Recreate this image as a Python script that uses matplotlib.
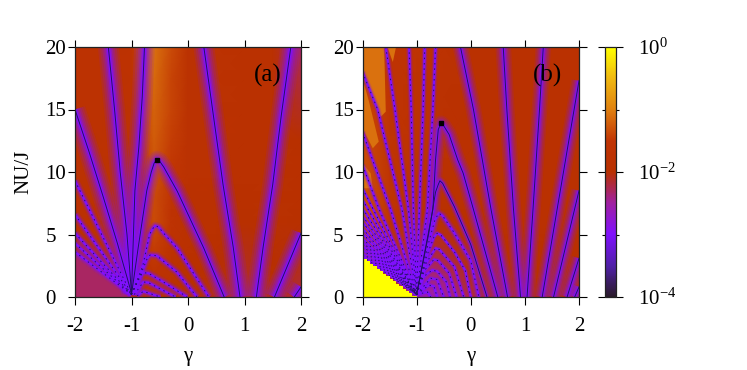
"""Two gamma / NU maps on a shared log colour scale, with node lines drawn on top."""
import matplotlib
matplotlib.use("Agg")
import matplotlib.pyplot as plt
import numpy as np
from matplotlib.colors import LinearSegmentedColormap, LogNorm
from matplotlib.ticker import NullFormatter

plt.rcParams["font.family"] = ["Liberation Serif", "DejaVu Sans"]
plt.rcParams["mathtext.default"] = "regular"
plt.rcParams["font.size"] = 15
plt.rcParams["axes.unicode_minus"] = False

# colour scale, log10 value fraction -> colour
CMAP_STOPS = ["#2a1a2a", "#5020a8", "#8010ff", "#a020a0", "#b83000",
              "#c03404", "#e08010", "#f0b810", "#ffff00"]

# ---- panel (a) background, log10 values
a_gamma = [-2, -1.5, -1, -0.8, -0.6, -0.3, 0, 0.5, 1, 1.5, 2]
a_nu = [0, 2, 4, 6, 8, 10, 12.5, 15, 17.5, 20]
a_log = [
    [-2.2, -2.2, -2.1, -1.9, -1.8, -1.9, -2.0, -2.1, -2.2, -2.1, -2.2],
    [-2.0, -1.95, -1.9, -1.8, -1.65, -1.8, -1.95, -2.0, -2.1, -2.0, -2.1],
    [-1.85, -1.85, -1.85, -1.65, -1.45, -1.7, -1.9, -1.95, -2.05, -1.95, -2.05],
    [-1.85, -1.8, -1.8, -1.6, -1.35, -1.6, -1.85, -1.9, -2.0, -1.9, -2.0],
    [-1.8, -1.8, -1.75, -1.55, -1.35, -1.55, -1.85, -1.85, -1.95, -1.9, -1.95],
    [-1.8, -1.8, -1.7, -1.5, -1.3, -1.5, -1.8, -1.8, -1.9, -1.85, -1.95],
    [-1.8, -1.75, -1.7, -1.45, -1.25, -1.45, -1.8, -1.8, -1.9, -1.85, -2.0],
    [-1.75, -1.75, -1.7, -1.4, -1.2, -1.4, -1.8, -1.8, -1.85, -1.85, -2.1],
    [-1.75, -1.75, -1.7, -1.35, -1.15, -1.4, -1.8, -1.75, -1.85, -1.9, -2.2],
    [-1.75, -1.75, -1.7, -1.3, -1.1, -1.35, -1.8, -1.75, -1.85, -1.9, -2.3],
]
# magenta wedge under the lowest fan line
a_wedge_gamma = [-2, -2, -1, -1]
a_wedge_nu = [0, 3.5, 0.2, 0]
a_wedge_log = -2.3

# panel (a) node lines
a_lines = [
    ([-1.41, -1.3, -1.2, -1.08, -1.0], [20, 15, 10, 5, 0.3]),
    ([-0.77, -0.81, -0.87, -0.94, -1.0], [20, 16, 12, 8.5, 0.3]),
    ([-2, -1.75, -1.5, -1.25, -1.0], [15, 11.6, 8.0, 4.3, 0.3]),
    ([0.28, 0.45, 0.62, 0.8, 0.92], [20, 14.5, 9, 4, 0]),
    ([1.82, 1.65, 1.5, 1.33, 1.21], [20, 14.5, 9, 4, 0]),
    ([2, 1.53], [5.1, 0]),
    ([2, 1.88], [0.8, 0]),
]
# panel (a) dotted fan from the left edge
a_fan_nu = [9.3, 6.6, 5.1, 4.3, 3.6]
# panel (a) arcs
a_arcs = [
    ([-1, -0.88, -0.73, -0.65, -0.6, -0.55, -0.5, -0.43, -0.19, 0.28, 0.64],
     [0.2, 4, 8.5, 10.0, 10.7, 11, 10.85, 10.4, 8.46, 3.9, 0]),
    ([-1, -0.8, -0.68, -0.62, -0.58, -0.52, -0.45, -0.19, 0.37],
     [0.2, 2.5, 5.0, 5.5, 5.7, 5.6, 5.2, 3.9, 0]),
    ([-1, -0.82, -0.72, -0.67, -0.55, -0.2, 0.16],
     [0.2, 2, 3.1, 3.36, 3.3, 2.0, 0]),
    ([-1, -0.85, -0.8, -0.7, -0.4, -0.015],
     [0.2, 1.6, 1.95, 1.9, 1.1, 0]),
    ([-0.95, -0.79, -0.7, -0.22], [0.2, 1.2, 1.15, 0]),
    ([-0.9, -0.79, -0.49], [0.1, 0.45, 0]),
]
a_peak = ([-0.55], [11])

# ---- panel (b) background, log10 values
b_gamma = [-2, -1.5, -1, -0.5, 0, 0.5, 1, 1.5, 2]
b_nu = [0, 2, 4, 6, 8, 12, 16, 20]
b_log = [
    [-1.3, -1.8, -2.6, -2.5, -2.2, -2.05, -2.05, -2.05, -2.05],
    [-1.3, -1.7, -2.4, -2.3, -2.05, -2.0, -2.0, -2.0, -2.0],
    [-1.3, -1.65, -2.2, -2.1, -2.0, -1.95, -1.95, -1.95, -1.95],
    [-1.3, -1.6, -2.0, -1.95, -1.95, -1.9, -1.9, -1.9, -1.9],
    [-1.3, -1.55, -1.85, -1.85, -1.9, -1.9, -1.9, -1.9, -1.9],
    [-1.35, -1.55, -1.75, -1.8, -1.85, -1.85, -1.85, -1.85, -1.9],
    [-1.4, -1.55, -1.7, -1.8, -1.85, -1.85, -1.85, -1.85, -1.9],
    [-1.4, -1.55, -1.65, -1.75, -1.85, -1.85, -1.85, -1.85, -1.9],
]
# flat orange patches, top left of panel (b)
b_orange_log = -1.1
b_orange = [
    ([-2, -1.6, -1.57, -1.66, -1.75, -1.97, -2], [20, 20, 14.83, 14.43, 15.1, 18.03, 18.56]),
    ([-2, -1.88, -1.70, -1.81, -2], [17.5, 15.63, 12.43, 11.9, 13.5]),
    ([-2, -1.85, -1.81, -2], [10.7, 9.9, 8.7, 8.7]),
    ([-1.54, -1.38, -1.44], [20, 20, 18.8]),
]
# saturated corner, stepped edge
b_yellow_edges = [-2, -1.92, -1.86, -1.8, -1.74, -1.68, -1.62, -1.56, -1.5, -1.44, -1.38,
                  -1.32, -1.26, -1.2, -1.14, -1.08, -1]
b_yellow_top = [3.05, 2.85, 2.65, 2.45, 2.25, 2.05, 1.85, 1.65, 1.45, 1.25, 1.05,
                0.85, 0.65, 0.5, 0.3, 0.1]
b_yellow_log = 0

# panel (b) node lines
b_fan_lines = [
    ([-1.57, -1.4, -1.15, -1], [20, 15, 7, 0.2]),
    ([-1.14, -1.1, -1.06, -1], [20, 15, 7, 0.2]),
    ([-0.85, -0.88, -0.95, -1], [20, 15, 7, 0.2]),
    ([-0.65, -0.7, -0.8, -1], [20, 15, 7, 0.2]),
    ([-2, -1.72, -1.27, -1], [18, 15, 7, 0.2]),
    ([-2, -1.48, -1], [13.2, 7, 0.2]),
    ([-2, -1.69, -1], [10.56, 7, 0.2]),
]
b_fan_nu = [8.7, 7.8, 7.1, 6.5, 6.0, 5.5, 5.1, 4.7, 4.4, 4.1, 3.8, 3.5, 3.25]
b_lines = [
    ([-0.19, 0.05, 0.375, 0.68], [20, 15, 7, 0]),
    ([0.6, 0.667, 0.79, 0.92], [20, 15, 7, 0]),
    ([1.34, 1.27, 1.15, 1.04], [20, 15, 7, 0]),
    ([2, 1.32], [17.3, 0]),
    ([2, 1.53], [8.5, 0]),
    ([2, 1.78], [3.1, 0]),
    ([2, 1.92], [0.8, 0]),
]
b_arcs = [
    ([-1, -0.7, -0.65, -0.6, -0.55, -0.5, -0.4, -0.24, -0.14, 0.05, 0.5],
     [0.2, 7, 11, 13.4, 13.9, 13.7, 13.0, 10.96, 9.9, 7, 0]),
    ([-1, -0.78, -0.65, -0.6, -0.57, -0.52, -0.3, 0, 0.3],
     [0.2, 5, 8.4, 9.0, 9.3, 9.1, 7.2, 4.2, 0]),
    ([-1, -0.8, -0.66, -0.59, -0.52, -0.3, 0, 0.15],
     [0.2, 4, 6.2, 6.7, 6.5, 5.1, 2.9, 0]),
    ([-1, -0.82, -0.68, -0.62, -0.55, -0.3, -0.1, 0.0],
     [0.2, 3.2, 4.8, 5.1, 4.95, 3.6, 2.1, 0]),
    ([-1, -0.84, -0.65, -0.58, -0.3, -0.13], [0.2, 2.6, 3.9, 3.8, 2.4, 0]),
    ([-1, -0.86, -0.68, -0.6, -0.4, -0.26], [0.2, 2.1, 3.0, 2.9, 1.9, 0]),
    ([-1, -0.88, -0.71, -0.62, -0.45, -0.38], [0.2, 1.6, 2.15, 2.05, 1.2, 0]),
    ([-1, -0.74, -0.62, -0.5], [0.2, 1.5, 1.4, 0]),
    ([-1, -0.77, -0.68, -0.62], [0.2, 0.95, 0.85, 0]),
    ([-1, -0.8, -0.74], [0.2, 0.4, 0]),
]
b_peak = ([-0.55], [13.9])

x_ticks = [-2, -1, 0, 1, 2]
y_ticks = [0, 5, 10, 15, 20]

W, H = 747, 370
cmap = LinearSegmentedColormap.from_list("pm", CMAP_STOPS)
norm = LogNorm(1e-4, 1)


def px_axes(fig, x0, x1, y0, y1):
    return fig.add_axes([x0 / W, 1 - y1 / H, (x1 - x0) / W, (y1 - y0) / H])


def node_line(ax, g, nu, glow=1.0, dotted=False):
    # soft purple halo, then the dark core
    layers = [(15, 0.12), (12, 0.15), (9, 0.2), (6.5, 0.28), (4.2, 0.45), (2.2, 1.0)]
    for lw, alpha in layers:
        ax.plot(g, nu, color="#8010ff", lw=max(lw * glow, 1.3), alpha=alpha, zorder=3,
                solid_capstyle="butt", solid_joinstyle="round")
    ls = (0, (1.5, 4)) if dotted else "-"
    ax.plot(g, nu, color="#241060", lw=0.7, ls=ls, zorder=4)


def style_panel(ax, label):
    ax.set_xlim(-2, 2)
    ax.set_ylim(0, 20)
    ax.set_xticks(x_ticks)
    ax.set_yticks(y_ticks)
    ax.tick_params(direction="out", length=5.4, width=0.8, top=True, right=True)
    ax.tick_params(axis="x", pad=9)
    ax.tick_params(axis="y", pad=16)
    for t in ax.get_yticklabels():
        t.set_ha("left")
    for s in ax.spines.values():
        s.set_linewidth(0.9)
        s.set_color("#222222")
        s.set_zorder(10)
    ax.set_xlabel("γ")
    ax.xaxis.set_label_coords(0.5, -0.2)
    ax.text(1.42, 17.7, label, fontsize=18, ha="center", va="center", zorder=8)


fig = plt.figure(figsize=(W / 100, H / 100), dpi=100, facecolor="white")
ax_a = px_axes(fig, 75, 301, 47, 297)
ax_b = px_axes(fig, 362.5, 579, 47, 297)
cax = px_axes(fig, 605, 616, 47, 297)

# ---- panel (a)
mesh = ax_a.pcolormesh(a_gamma, a_nu, 10.0 ** np.array(a_log), cmap=cmap, norm=norm,
                       shading="gouraud", zorder=1)
ax_a.fill(a_wedge_gamma, a_wedge_nu, color=cmap(norm(10.0 ** a_wedge_log)), lw=0, zorder=2)
for g, nu in a_lines:
    node_line(ax_a, g, nu)
for start in a_fan_nu:
    node_line(ax_a, [-2, -1], [start, 0.2], glow=0.4, dotted=True)
for i, (g, nu) in enumerate(a_arcs):
    node_line(ax_a, g, nu, glow=0.85 if i == 0 else 0.4, dotted=i > 0)
ax_a.plot(*a_peak, "s", color="black", ms=2.2, zorder=5)
style_panel(ax_a, "(a)")
ax_a.set_ylabel("NU/J")
ax_a.yaxis.set_label_coords(-0.186, 0.5)

# ---- panel (b)
ax_b.pcolormesh(b_gamma, b_nu, 10.0 ** np.array(b_log), cmap=cmap, norm=norm,
                shading="gouraud", zorder=1)
for g, nu in b_orange:
    ax_b.fill(g, nu, color=cmap(norm(10.0 ** b_orange_log)), lw=0, zorder=2)
for g, nu in b_fan_lines:
    node_line(ax_b, g, nu, glow=0.3, dotted=True)
for start in b_fan_nu:
    node_line(ax_b, [-2, -1], [start, 0.2], glow=0.18, dotted=True)
for g, nu in b_lines:
    node_line(ax_b, g, nu, glow=0.75)
for i, (g, nu) in enumerate(b_arcs):
    node_line(ax_b, g, nu, glow=0.75 if i == 0 else 0.4 if i < 3 else 0.25, dotted=i > 1)
ax_b.plot(*b_peak, "s", color="black", ms=2.2, zorder=5)
ax_b.stairs(b_yellow_top, b_yellow_edges, fill=True, baseline=0,
            color=cmap(norm(10.0 ** b_yellow_log)), lw=0, zorder=6)
style_panel(ax_b, "(b)")

# ---- colour bar
cb = fig.colorbar(mesh, cax=cax)
cb.set_ticks([1e-4, 1e-2, 1])
cb.set_ticklabels([r"$10^{-4}$", r"$10^{-2}$", r"$10^{0}$"])
cb.set_ticks([1e-3, 1e-1], minor=True)
cax.yaxis.set_minor_formatter(NullFormatter())
cax.tick_params(which="major", direction="out", length=4.7, width=0.8, left=True, right=True, pad=11)
cax.tick_params(which="minor", direction="out", length=2.4, width=0.8, left=True, right=True)
cb.outline.set_linewidth(0.9)
cb.outline.set_edgecolor("#222222")

fig.savefig("out.png", dpi=100)
